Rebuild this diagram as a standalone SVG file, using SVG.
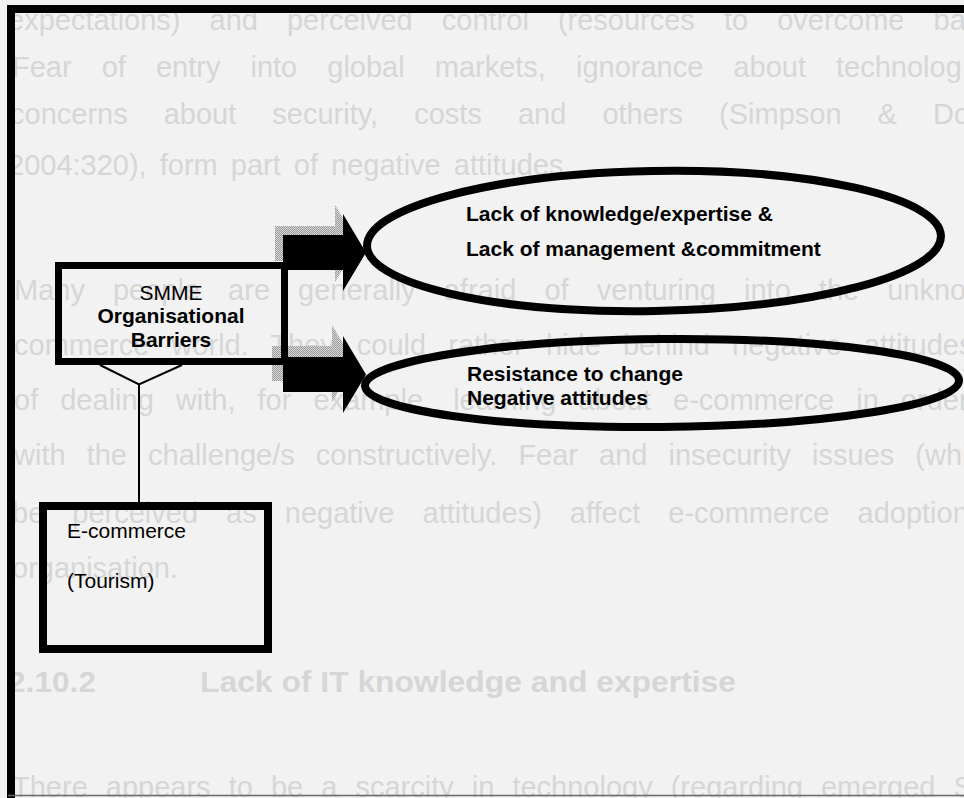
<svg xmlns="http://www.w3.org/2000/svg" xmlns:xlink="http://www.w3.org/1999/xlink" width="964" height="798" viewBox="0 0 964 798">
  <defs>
    <style>
      .bg { font-family: "Liberation Sans", Arial, sans-serif; font-size: 29px; fill: #d6d6d6; }
      .bgb { font-family: "Liberation Sans", Arial, sans-serif; font-size: 29px; font-weight: bold; fill: #d6d6d6; }
      .lbl { font-family: "Liberation Sans", Arial, sans-serif; font-size: 21px; fill: #000; }
      .b { font-weight: bold; }
      .box { fill: none; stroke: #000; }
      .ell { fill: none; stroke: #000; stroke-width: 8; }
      .conn { fill: none; stroke: #000; stroke-width: 2; }
    </style>
    <pattern id="dots" width="2" height="2" patternUnits="userSpaceOnUse">
      <rect width="2" height="2" fill="#d8d8d8"/>
      <rect width="1" height="1" fill="#9a9a9a"/>
      <rect x="1" y="1" width="1" height="1" fill="#9a9a9a"/>
    </pattern>
    <path id="arrowShape" d="M0 0 H60 V-21 L83 17.5 L60 56 V35 H0 Z"/>
  </defs>

  <rect width="964" height="798" fill="#f2f2f2"/>

  <!-- faint show-through page text -->
  <g id="page-text">
    <text class="bg" x="8" y="30" word-spacing="21">expectations) and perceived control (resources to overcome ba</text>
    <text class="bg" x="12" y="77" word-spacing="22">Fear of entry into global markets, ignorance about technolog</text>
    <text class="bg" x="10" y="124" word-spacing="28">concerns about security, costs and others (Simpson &amp; Do</text>
    <text class="bg" x="8" y="175" word-spacing="5">2004:320), form part of negative attitudes.</text>
    <text class="bg" x="14" y="300" word-spacing="20">Many people are generally afraid of venturing into the unkno</text>
    <text class="bg" x="14" y="355" word-spacing="14">commerce world. They could rather hide behind negative attitudes</text>
    <text class="bg" x="14" y="410" word-spacing="14">of dealing with, for example, learning about e-commerce in order</text>
    <text class="bg" x="14" y="465" word-spacing="13">with the challenge/s constructively. Fear and insecurity issues (whi</text>
    <text class="bg" x="12" y="523" word-spacing="20">be perceived as negative attitudes) affect e-commerce adoption</text>
    <text class="bg" x="12" y="578">organisation.</text>
    <text class="bgb" x="8" y="692" textLength="88" lengthAdjust="spacingAndGlyphs">2.10.2</text>
    <text class="bgb" x="200" y="692" textLength="536" lengthAdjust="spacingAndGlyphs">Lack of IT knowledge and expertise</text>
    <text class="bg" x="12" y="797" word-spacing="10">There appears to be a scarcity in technology (regarding emerged S</text>
  </g>

  <!-- page frame -->
  <g id="frame">
    <path d="M11 798 V9 H964" fill="none" stroke="#000" stroke-width="8"/>
    <line x1="8" y1="795.5" x2="964" y2="795.5" stroke="#6a6a6a" stroke-width="1.5"/>
  </g>

  <!-- connectors -->
  <g id="connectors">
    <polyline class="conn" points="100,365 139,384.5 182,365"/>
    <line class="conn" x1="139" y1="384" x2="139" y2="502"/>
    <use xlink:href="#arrowShape" transform="translate(275,226)" fill="url(#dots)"/>
    <use xlink:href="#arrowShape" transform="translate(272,346)" fill="url(#dots)"/>
    <use xlink:href="#arrowShape" transform="translate(283,235)" fill="#000"/>
    <use xlink:href="#arrowShape" transform="translate(283,357)" fill="#000"/>
  </g>

  <g id="smme">
    <rect class="box" x="58.5" y="265.5" width="226" height="96" stroke-width="7"/>
    <text class="lbl" x="171" y="300" text-anchor="middle">SMME</text>
    <text class="lbl b" x="171" y="323" text-anchor="middle">Organisational</text>
    <text class="lbl b" x="171" y="347" text-anchor="middle">Barriers</text>
  </g>

  <g id="ecommerce">
    <rect class="box" x="43" y="506" width="225" height="143" stroke-width="8"/>
    <text class="lbl" x="67" y="538">E-commerce</text>
    <text class="lbl" x="67" y="588">(Tourism)</text>
  </g>

  <g id="knowledge">
    <ellipse class="ell" cx="654" cy="241" rx="287" ry="70" transform="rotate(-1 654 241)"/>
    <text class="lbl b" x="466" y="221">Lack of knowledge/expertise &amp;</text>
    <text class="lbl b" x="466" y="256">Lack of management &amp;commitment</text>
  </g>

  <g id="resistance">
    <ellipse class="ell" cx="662" cy="383" rx="297" ry="44" transform="rotate(-0.5 662 383)"/>
    <text class="lbl b" x="467" y="381">Resistance to change</text>
    <text class="lbl b" x="467" y="405">Negative attitudes</text>
  </g>
</svg>
